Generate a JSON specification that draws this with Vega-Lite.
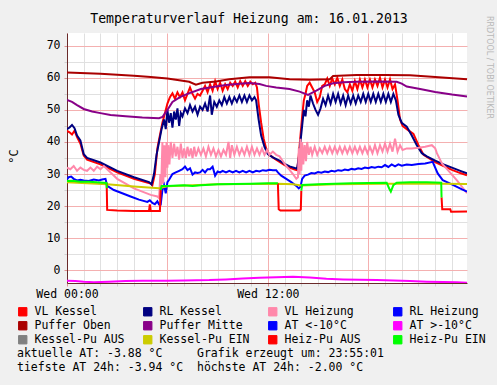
{
"$schema": "https://vega.github.io/schema/vega-lite/v6.json",
"width": 400, "height": 250,
"autosize": "none",
"padding": {"left": 67, "top": 33, "right": 30, "bottom": 102},
"background": "#f0f0f0",
"config": {"view": {"fill": "white", "stroke": null}, "font": "DejaVu Sans Mono"},
"title": {"text": "Temperaturverlauf Heizung am: 16.01.2013", "font": "DejaVu Sans Mono", "fontSize": 13.2, "fontWeight": "normal", "color": "#000", "anchor": "middle", "frame": "group", "dx": -18, "dy": 20, "offset": 9},
"datasets": {
"d": [
{"s":"VL Kessel","h":0,"v":43.5},{"s":"VL Kessel","h":0.15,"v":43},{"s":"VL Kessel","h":0.3,"v":42.3},{"s":"VL Kessel","h":0.45,"v":43.5},{"s":"VL Kessel","h":0.6,"v":41.5},{"s":"VL Kessel","h":0.8,"v":39.5},{"s":"VL Kessel","h":1.0,"v":35.8},{"s":"VL Kessel","h":1.2,"v":34.5},{"s":"VL Kessel","h":2,"v":33},{"s":"VL Kessel","h":3,"v":30.5},{"s":"VL Kessel","h":4,"v":28.5},{"s":"VL Kessel","h":5,"v":27},{"s":"VL Kessel","h":5.1,"v":26.5},{"s":"VL Kessel","h":5.25,"v":30},{"s":"VL Kessel","h":5.4,"v":38},{"s":"VL Kessel","h":5.55,"v":42},{"s":"VL Kessel","h":5.7,"v":46},{"s":"VL Kessel","h":5.85,"v":49},{"s":"VL Kessel","h":6.0,"v":52},{"s":"VL Kessel","h":6.15,"v":54},{"s":"VL Kessel","h":6.3,"v":55.2},{"s":"VL Kessel","h":6.45,"v":53.5},{"s":"VL Kessel","h":6.6,"v":55.5},{"s":"VL Kessel","h":6.75,"v":54},{"s":"VL Kessel","h":6.9,"v":55.5},{"s":"VL Kessel","h":7.05,"v":53},{"s":"VL Kessel","h":7.2,"v":55},{"s":"VL Kessel","h":7.35,"v":57},{"s":"VL Kessel","h":7.5,"v":55},{"s":"VL Kessel","h":7.65,"v":53.5},{"s":"VL Kessel","h":7.8,"v":55},{"s":"VL Kessel","h":7.95,"v":54.5},{"s":"VL Kessel","h":8.1,"v":56},{"s":"VL Kessel","h":8.25,"v":57.5},{"s":"VL Kessel","h":8.4,"v":55.5},{"s":"VL Kessel","h":8.55,"v":58},{"s":"VL Kessel","h":8.7,"v":56},{"s":"VL Kessel","h":8.85,"v":59},{"s":"VL Kessel","h":9.0,"v":56.5},{"s":"VL Kessel","h":9.15,"v":58.5},{"s":"VL Kessel","h":9.3,"v":56},{"s":"VL Kessel","h":9.45,"v":58},{"s":"VL Kessel","h":9.6,"v":56.5},{"s":"VL Kessel","h":9.75,"v":58.5},{"s":"VL Kessel","h":9.9,"v":57.5},{"s":"VL Kessel","h":10.05,"v":58.8},{"s":"VL Kessel","h":10.2,"v":57},{"s":"VL Kessel","h":10.35,"v":59},{"s":"VL Kessel","h":10.5,"v":57.5},{"s":"VL Kessel","h":10.65,"v":59},{"s":"VL Kessel","h":10.8,"v":57.5},{"s":"VL Kessel","h":10.95,"v":58.8},{"s":"VL Kessel","h":11.1,"v":58},{"s":"VL Kessel","h":11.25,"v":58.5},{"s":"VL Kessel","h":11.35,"v":57},{"s":"VL Kessel","h":11.45,"v":52},{"s":"VL Kessel","h":11.6,"v":46},{"s":"VL Kessel","h":11.75,"v":41},{"s":"VL Kessel","h":11.9,"v":38},{"s":"VL Kessel","h":12.1,"v":36},{"s":"VL Kessel","h":12.4,"v":34.8},{"s":"VL Kessel","h":12.7,"v":33.8},{"s":"VL Kessel","h":13.0,"v":32.8},{"s":"VL Kessel","h":13.3,"v":32},{"s":"VL Kessel","h":13.6,"v":31.4},{"s":"VL Kessel","h":13.75,"v":31.2},{"s":"VL Kessel","h":13.85,"v":36},{"s":"VL Kessel","h":13.95,"v":42},{"s":"VL Kessel","h":14.05,"v":48},{"s":"VL Kessel","h":14.15,"v":53},{"s":"VL Kessel","h":14.25,"v":55},{"s":"VL Kessel","h":14.35,"v":57.5},{"s":"VL Kessel","h":14.5,"v":58.5},{"s":"VL Kessel","h":14.65,"v":57},{"s":"VL Kessel","h":14.8,"v":55.5},{"s":"VL Kessel","h":14.95,"v":52.5},{"s":"VL Kessel","h":15.1,"v":54},{"s":"VL Kessel","h":15.25,"v":57.5},{"s":"VL Kessel","h":15.4,"v":58},{"s":"VL Kessel","h":15.55,"v":59.8},{"s":"VL Kessel","h":15.7,"v":57.5},{"s":"VL Kessel","h":15.85,"v":59.8},{"s":"VL Kessel","h":16.0,"v":58},{"s":"VL Kessel","h":16.15,"v":60},{"s":"VL Kessel","h":16.3,"v":57.5},{"s":"VL Kessel","h":16.45,"v":59.5},{"s":"VL Kessel","h":16.6,"v":56.5},{"s":"VL Kessel","h":16.75,"v":55.5},{"s":"VL Kessel","h":16.9,"v":58},{"s":"VL Kessel","h":17.05,"v":56},{"s":"VL Kessel","h":17.2,"v":59},{"s":"VL Kessel","h":17.35,"v":56.5},{"s":"VL Kessel","h":17.5,"v":59.5},{"s":"VL Kessel","h":17.65,"v":57},{"s":"VL Kessel","h":17.8,"v":59.5},{"s":"VL Kessel","h":17.95,"v":57},{"s":"VL Kessel","h":18.1,"v":59.5},{"s":"VL Kessel","h":18.25,"v":57},{"s":"VL Kessel","h":18.4,"v":59.5},{"s":"VL Kessel","h":18.55,"v":57.5},{"s":"VL Kessel","h":18.7,"v":60},{"s":"VL Kessel","h":18.85,"v":57},{"s":"VL Kessel","h":19.0,"v":59.5},{"s":"VL Kessel","h":19.15,"v":57},{"s":"VL Kessel","h":19.3,"v":59.5},{"s":"VL Kessel","h":19.45,"v":56.5},{"s":"VL Kessel","h":19.6,"v":58},{"s":"VL Kessel","h":19.75,"v":53},{"s":"VL Kessel","h":19.9,"v":47},{"s":"VL Kessel","h":20.05,"v":45},{"s":"VL Kessel","h":20.3,"v":44},{"s":"VL Kessel","h":20.7,"v":42.5},{"s":"VL Kessel","h":21.0,"v":39},{"s":"VL Kessel","h":21.3,"v":36},{"s":"VL Kessel","h":21.6,"v":35},{"s":"VL Kessel","h":22,"v":33.7},{"s":"VL Kessel","h":22.5,"v":32.5},{"s":"VL Kessel","h":23,"v":31.3},{"s":"VL Kessel","h":23.5,"v":30.3},{"s":"VL Kessel","h":23.9,"v":29.6},
{"s":"RL Kessel","h":0,"v":44},{"s":"RL Kessel","h":0.15,"v":44.5},{"s":"RL Kessel","h":0.3,"v":45.3},{"s":"RL Kessel","h":0.45,"v":44.3},{"s":"RL Kessel","h":0.6,"v":42},{"s":"RL Kessel","h":0.8,"v":40.5},{"s":"RL Kessel","h":1.0,"v":36.2},{"s":"RL Kessel","h":1.2,"v":35},{"s":"RL Kessel","h":2,"v":33.6},{"s":"RL Kessel","h":3,"v":31},{"s":"RL Kessel","h":4,"v":29},{"s":"RL Kessel","h":4.9,"v":27.5},{"s":"RL Kessel","h":5.05,"v":26.8},{"s":"RL Kessel","h":5.2,"v":30},{"s":"RL Kessel","h":5.35,"v":36},{"s":"RL Kessel","h":5.5,"v":40},{"s":"RL Kessel","h":5.65,"v":44},{"s":"RL Kessel","h":5.8,"v":47},{"s":"RL Kessel","h":5.9,"v":44},{"s":"RL Kessel","h":6.0,"v":50},{"s":"RL Kessel","h":6.1,"v":46},{"s":"RL Kessel","h":6.2,"v":49},{"s":"RL Kessel","h":6.3,"v":44.5},{"s":"RL Kessel","h":6.4,"v":49.5},{"s":"RL Kessel","h":6.5,"v":47},{"s":"RL Kessel","h":6.6,"v":50.5},{"s":"RL Kessel","h":6.7,"v":45},{"s":"RL Kessel","h":6.8,"v":49},{"s":"RL Kessel","h":6.9,"v":48},{"s":"RL Kessel","h":7.05,"v":50.5},{"s":"RL Kessel","h":7.2,"v":49},{"s":"RL Kessel","h":7.35,"v":51.5},{"s":"RL Kessel","h":7.5,"v":49.5},{"s":"RL Kessel","h":7.65,"v":51},{"s":"RL Kessel","h":7.8,"v":48.5},{"s":"RL Kessel","h":7.95,"v":51},{"s":"RL Kessel","h":8.1,"v":50},{"s":"RL Kessel","h":8.25,"v":52},{"s":"RL Kessel","h":8.4,"v":49.5},{"s":"RL Kessel","h":8.55,"v":54.5},{"s":"RL Kessel","h":8.65,"v":48.5},{"s":"RL Kessel","h":8.8,"v":52.5},{"s":"RL Kessel","h":8.95,"v":51},{"s":"RL Kessel","h":9.1,"v":53},{"s":"RL Kessel","h":9.25,"v":51.5},{"s":"RL Kessel","h":9.4,"v":54},{"s":"RL Kessel","h":9.55,"v":52},{"s":"RL Kessel","h":9.7,"v":54},{"s":"RL Kessel","h":9.85,"v":52},{"s":"RL Kessel","h":10.0,"v":54},{"s":"RL Kessel","h":10.15,"v":52.5},{"s":"RL Kessel","h":10.3,"v":54.5},{"s":"RL Kessel","h":10.45,"v":52.5},{"s":"RL Kessel","h":10.6,"v":54.5},{"s":"RL Kessel","h":10.75,"v":52.5},{"s":"RL Kessel","h":10.9,"v":54.5},{"s":"RL Kessel","h":11.05,"v":53},{"s":"RL Kessel","h":11.2,"v":54},{"s":"RL Kessel","h":11.3,"v":53},{"s":"RL Kessel","h":11.45,"v":47},{"s":"RL Kessel","h":11.6,"v":42},{"s":"RL Kessel","h":11.8,"v":38.5},{"s":"RL Kessel","h":12.0,"v":36.2},{"s":"RL Kessel","h":12.3,"v":35.2},{"s":"RL Kessel","h":12.7,"v":34.2},{"s":"RL Kessel","h":13.0,"v":33.2},{"s":"RL Kessel","h":13.3,"v":32.4},{"s":"RL Kessel","h":13.6,"v":31.9},{"s":"RL Kessel","h":13.75,"v":31.6},{"s":"RL Kessel","h":13.85,"v":35},{"s":"RL Kessel","h":13.95,"v":40},{"s":"RL Kessel","h":14.05,"v":45},{"s":"RL Kessel","h":14.15,"v":50},{"s":"RL Kessel","h":14.25,"v":48},{"s":"RL Kessel","h":14.35,"v":53},{"s":"RL Kessel","h":14.45,"v":51},{"s":"RL Kessel","h":14.55,"v":54.5},{"s":"RL Kessel","h":14.7,"v":52},{"s":"RL Kessel","h":14.85,"v":50},{"s":"RL Kessel","h":15.0,"v":48.5},{"s":"RL Kessel","h":15.15,"v":50.5},{"s":"RL Kessel","h":15.3,"v":53.5},{"s":"RL Kessel","h":15.45,"v":51.5},{"s":"RL Kessel","h":15.6,"v":54.5},{"s":"RL Kessel","h":15.75,"v":52},{"s":"RL Kessel","h":15.9,"v":55},{"s":"RL Kessel","h":16.05,"v":52.5},{"s":"RL Kessel","h":16.2,"v":55},{"s":"RL Kessel","h":16.35,"v":52},{"s":"RL Kessel","h":16.5,"v":54.5},{"s":"RL Kessel","h":16.65,"v":51.5},{"s":"RL Kessel","h":16.8,"v":54.5},{"s":"RL Kessel","h":16.95,"v":52},{"s":"RL Kessel","h":17.1,"v":54.5},{"s":"RL Kessel","h":17.25,"v":52},{"s":"RL Kessel","h":17.4,"v":54.5},{"s":"RL Kessel","h":17.55,"v":52.5},{"s":"RL Kessel","h":17.7,"v":55},{"s":"RL Kessel","h":17.85,"v":52.5},{"s":"RL Kessel","h":18.0,"v":55},{"s":"RL Kessel","h":18.15,"v":52.5},{"s":"RL Kessel","h":18.3,"v":55},{"s":"RL Kessel","h":18.45,"v":52.5},{"s":"RL Kessel","h":18.6,"v":55},{"s":"RL Kessel","h":18.75,"v":52.5},{"s":"RL Kessel","h":18.9,"v":55},{"s":"RL Kessel","h":19.05,"v":52.5},{"s":"RL Kessel","h":19.2,"v":55},{"s":"RL Kessel","h":19.35,"v":52.5},{"s":"RL Kessel","h":19.5,"v":55},{"s":"RL Kessel","h":19.65,"v":53},{"s":"RL Kessel","h":19.8,"v":48.5},{"s":"RL Kessel","h":20.0,"v":46},{"s":"RL Kessel","h":20.3,"v":44.8},{"s":"RL Kessel","h":20.6,"v":42},{"s":"RL Kessel","h":20.9,"v":39},{"s":"RL Kessel","h":21.2,"v":36.5},{"s":"RL Kessel","h":21.5,"v":35.5},{"s":"RL Kessel","h":22,"v":34.2},{"s":"RL Kessel","h":22.5,"v":33},{"s":"RL Kessel","h":23,"v":32},{"s":"RL Kessel","h":23.5,"v":31},{"s":"RL Kessel","h":23.9,"v":30.2},
{"s":"VL Heizung","h":0,"v":32},{"s":"VL Heizung","h":0.2,"v":31.5},{"s":"VL Heizung","h":0.4,"v":32.5},{"s":"VL Heizung","h":0.6,"v":31},{"s":"VL Heizung","h":0.8,"v":32},{"s":"VL Heizung","h":1.0,"v":31.3},{"s":"VL Heizung","h":1.2,"v":31},{"s":"VL Heizung","h":1.4,"v":32},{"s":"VL Heizung","h":1.6,"v":31},{"s":"VL Heizung","h":1.8,"v":32.3},{"s":"VL Heizung","h":2.0,"v":31.5},{"s":"VL Heizung","h":2.2,"v":32.5},{"s":"VL Heizung","h":2.4,"v":31.5},{"s":"VL Heizung","h":2.7,"v":30},{"s":"VL Heizung","h":3.0,"v":28.5},{"s":"VL Heizung","h":3.5,"v":27},{"s":"VL Heizung","h":4.0,"v":25.5},{"s":"VL Heizung","h":4.5,"v":24.5},{"s":"VL Heizung","h":5.0,"v":23.5},{"s":"VL Heizung","h":5.4,"v":23},{"s":"VL Heizung","h":5.5,"v":22.5},{"s":"VL Heizung","h":5.58,"v":30},{"s":"VL Heizung","h":5.62,"v":24},{"s":"VL Heizung","h":5.7,"v":40},{"s":"VL Heizung","h":5.75,"v":27},{"s":"VL Heizung","h":5.82,"v":39},{"s":"VL Heizung","h":5.88,"v":29},{"s":"VL Heizung","h":5.95,"v":40},{"s":"VL Heizung","h":6.0,"v":32},{"s":"VL Heizung","h":6.05,"v":39},{"s":"VL Heizung","h":6.12,"v":33},{"s":"VL Heizung","h":6.2,"v":40},{"s":"VL Heizung","h":6.3,"v":35},{"s":"VL Heizung","h":6.4,"v":39.5},{"s":"VL Heizung","h":6.5,"v":35.5},{"s":"VL Heizung","h":6.6,"v":38.5},{"s":"VL Heizung","h":6.7,"v":34.5},{"s":"VL Heizung","h":6.8,"v":39.5},{"s":"VL Heizung","h":6.9,"v":35},{"s":"VL Heizung","h":7.0,"v":38},{"s":"VL Heizung","h":7.1,"v":35},{"s":"VL Heizung","h":7.2,"v":38.5},{"s":"VL Heizung","h":7.3,"v":35.5},{"s":"VL Heizung","h":7.4,"v":38},{"s":"VL Heizung","h":7.5,"v":35},{"s":"VL Heizung","h":7.6,"v":38.5},{"s":"VL Heizung","h":7.7,"v":35.5},{"s":"VL Heizung","h":7.85,"v":38},{"s":"VL Heizung","h":8.0,"v":36},{"s":"VL Heizung","h":8.15,"v":38},{"s":"VL Heizung","h":8.3,"v":35.5},{"s":"VL Heizung","h":8.45,"v":38.5},{"s":"VL Heizung","h":8.6,"v":36},{"s":"VL Heizung","h":8.75,"v":38},{"s":"VL Heizung","h":8.9,"v":35.5},{"s":"VL Heizung","h":9.05,"v":37.5},{"s":"VL Heizung","h":9.2,"v":35.5},{"s":"VL Heizung","h":9.35,"v":37.5},{"s":"VL Heizung","h":9.5,"v":36},{"s":"VL Heizung","h":9.65,"v":40},{"s":"VL Heizung","h":9.75,"v":35},{"s":"VL Heizung","h":9.85,"v":39},{"s":"VL Heizung","h":10.0,"v":36},{"s":"VL Heizung","h":10.15,"v":38.5},{"s":"VL Heizung","h":10.3,"v":36},{"s":"VL Heizung","h":10.45,"v":38},{"s":"VL Heizung","h":10.6,"v":36},{"s":"VL Heizung","h":10.75,"v":38.5},{"s":"VL Heizung","h":10.9,"v":36},{"s":"VL Heizung","h":11.05,"v":38.5},{"s":"VL Heizung","h":11.2,"v":36},{"s":"VL Heizung","h":11.35,"v":38},{"s":"VL Heizung","h":11.5,"v":36},{"s":"VL Heizung","h":11.65,"v":38},{"s":"VL Heizung","h":11.8,"v":36},{"s":"VL Heizung","h":11.95,"v":37.5},{"s":"VL Heizung","h":12.1,"v":36},{"s":"VL Heizung","h":12.3,"v":37},{"s":"VL Heizung","h":12.5,"v":36},{"s":"VL Heizung","h":12.7,"v":35.5},{"s":"VL Heizung","h":12.9,"v":34},{"s":"VL Heizung","h":13.1,"v":32.5},{"s":"VL Heizung","h":13.3,"v":31.3},{"s":"VL Heizung","h":13.5,"v":30},{"s":"VL Heizung","h":13.7,"v":28.5},{"s":"VL Heizung","h":13.8,"v":29},{"s":"VL Heizung","h":13.85,"v":38},{"s":"VL Heizung","h":13.9,"v":30},{"s":"VL Heizung","h":13.95,"v":41},{"s":"VL Heizung","h":14.0,"v":31},{"s":"VL Heizung","h":14.05,"v":40},{"s":"VL Heizung","h":14.12,"v":33},{"s":"VL Heizung","h":14.2,"v":39},{"s":"VL Heizung","h":14.28,"v":34},{"s":"VL Heizung","h":14.35,"v":40},{"s":"VL Heizung","h":14.45,"v":36},{"s":"VL Heizung","h":14.55,"v":38.5},{"s":"VL Heizung","h":14.65,"v":36},{"s":"VL Heizung","h":14.8,"v":38.5},{"s":"VL Heizung","h":14.95,"v":36},{"s":"VL Heizung","h":15.1,"v":38},{"s":"VL Heizung","h":15.25,"v":36.5},{"s":"VL Heizung","h":15.4,"v":38.5},{"s":"VL Heizung","h":15.55,"v":36.5},{"s":"VL Heizung","h":15.7,"v":38.5},{"s":"VL Heizung","h":15.85,"v":36.5},{"s":"VL Heizung","h":16.0,"v":38.5},{"s":"VL Heizung","h":16.15,"v":36.5},{"s":"VL Heizung","h":16.3,"v":38.5},{"s":"VL Heizung","h":16.45,"v":36.5},{"s":"VL Heizung","h":16.6,"v":38.5},{"s":"VL Heizung","h":16.75,"v":36.5},{"s":"VL Heizung","h":16.9,"v":38.5},{"s":"VL Heizung","h":17.05,"v":36.5},{"s":"VL Heizung","h":17.2,"v":38.5},{"s":"VL Heizung","h":17.35,"v":36.5},{"s":"VL Heizung","h":17.5,"v":38.5},{"s":"VL Heizung","h":17.65,"v":36.5},{"s":"VL Heizung","h":17.8,"v":38.5},{"s":"VL Heizung","h":17.95,"v":36.5},{"s":"VL Heizung","h":18.1,"v":38.5},{"s":"VL Heizung","h":18.25,"v":36.5},{"s":"VL Heizung","h":18.4,"v":39},{"s":"VL Heizung","h":18.55,"v":36.5},{"s":"VL Heizung","h":18.7,"v":39},{"s":"VL Heizung","h":18.85,"v":37},{"s":"VL Heizung","h":19.0,"v":39.5},{"s":"VL Heizung","h":19.15,"v":37},{"s":"VL Heizung","h":19.3,"v":39.5},{"s":"VL Heizung","h":19.45,"v":37},{"s":"VL Heizung","h":19.6,"v":41},{"s":"VL Heizung","h":19.75,"v":37},{"s":"VL Heizung","h":19.9,"v":39},{"s":"VL Heizung","h":20.05,"v":37.5},{"s":"VL Heizung","h":20.3,"v":38},{"s":"VL Heizung","h":20.6,"v":38},{"s":"VL Heizung","h":21.0,"v":38.2},{"s":"VL Heizung","h":21.4,"v":38.5},{"s":"VL Heizung","h":21.8,"v":39},{"s":"VL Heizung","h":22.0,"v":38},{"s":"VL Heizung","h":22.1,"v":36.5},{"s":"VL Heizung","h":22.4,"v":33.3},{"s":"VL Heizung","h":22.8,"v":31},{"s":"VL Heizung","h":23.3,"v":28},{"s":"VL Heizung","h":23.6,"v":26},{"s":"VL Heizung","h":23.9,"v":24},
{"s":"RL Heizung","h":0,"v":28.3},{"s":"RL Heizung","h":0.1,"v":29},{"s":"RL Heizung","h":0.25,"v":29.2},{"s":"RL Heizung","h":0.4,"v":28.5},{"s":"RL Heizung","h":0.6,"v":28},{"s":"RL Heizung","h":0.8,"v":28.2},{"s":"RL Heizung","h":1.0,"v":28},{"s":"RL Heizung","h":1.3,"v":27.8},{"s":"RL Heizung","h":1.6,"v":28.3},{"s":"RL Heizung","h":1.9,"v":28},{"s":"RL Heizung","h":2.1,"v":28.3},{"s":"RL Heizung","h":2.3,"v":28.5},{"s":"RL Heizung","h":2.4,"v":26.3},{"s":"RL Heizung","h":2.8,"v":25},{"s":"RL Heizung","h":3.3,"v":24},{"s":"RL Heizung","h":3.8,"v":23},{"s":"RL Heizung","h":4.3,"v":22},{"s":"RL Heizung","h":4.8,"v":21.3},{"s":"RL Heizung","h":4.95,"v":21.8},{"s":"RL Heizung","h":5.1,"v":21},{"s":"RL Heizung","h":5.25,"v":20.6},{"s":"RL Heizung","h":5.4,"v":21.5},{"s":"RL Heizung","h":5.5,"v":20.5},{"s":"RL Heizung","h":5.6,"v":20.5},{"s":"RL Heizung","h":5.7,"v":25},{"s":"RL Heizung","h":5.8,"v":26.5},{"s":"RL Heizung","h":5.9,"v":24},{"s":"RL Heizung","h":6.0,"v":27.5},{"s":"RL Heizung","h":6.1,"v":28.2},{"s":"RL Heizung","h":6.3,"v":30},{"s":"RL Heizung","h":6.5,"v":30.5},{"s":"RL Heizung","h":6.7,"v":31},{"s":"RL Heizung","h":6.9,"v":31.5},{"s":"RL Heizung","h":7.05,"v":32.3},{"s":"RL Heizung","h":7.2,"v":31.2},{"s":"RL Heizung","h":7.35,"v":31.8},{"s":"RL Heizung","h":7.5,"v":29.8},{"s":"RL Heizung","h":7.65,"v":30.5},{"s":"RL Heizung","h":7.8,"v":30.3},{"s":"RL Heizung","h":7.95,"v":30.5},{"s":"RL Heizung","h":8.1,"v":31.3},{"s":"RL Heizung","h":8.25,"v":30.5},{"s":"RL Heizung","h":8.4,"v":31.5},{"s":"RL Heizung","h":8.55,"v":31.5},{"s":"RL Heizung","h":8.7,"v":32.3},{"s":"RL Heizung","h":8.85,"v":29.5},{"s":"RL Heizung","h":9.0,"v":30.8},{"s":"RL Heizung","h":9.15,"v":30.5},{"s":"RL Heizung","h":9.3,"v":31},{"s":"RL Heizung","h":9.5,"v":30.5},{"s":"RL Heizung","h":9.7,"v":31},{"s":"RL Heizung","h":9.9,"v":30.5},{"s":"RL Heizung","h":10.1,"v":31},{"s":"RL Heizung","h":10.3,"v":30.5},{"s":"RL Heizung","h":10.5,"v":31},{"s":"RL Heizung","h":10.7,"v":30.5},{"s":"RL Heizung","h":10.9,"v":31},{"s":"RL Heizung","h":11.1,"v":30.5},{"s":"RL Heizung","h":11.3,"v":31},{"s":"RL Heizung","h":11.5,"v":30.8},{"s":"RL Heizung","h":11.7,"v":31.2},{"s":"RL Heizung","h":11.9,"v":31},{"s":"RL Heizung","h":12.1,"v":31.3},{"s":"RL Heizung","h":12.3,"v":31.2},{"s":"RL Heizung","h":12.5,"v":31.2},{"s":"RL Heizung","h":12.6,"v":30.5},{"s":"RL Heizung","h":12.8,"v":29.5},{"s":"RL Heizung","h":13.1,"v":28.5},{"s":"RL Heizung","h":13.4,"v":27.5},{"s":"RL Heizung","h":13.7,"v":26.3},{"s":"RL Heizung","h":13.85,"v":25.5},{"s":"RL Heizung","h":13.95,"v":26},{"s":"RL Heizung","h":14.05,"v":28.5},{"s":"RL Heizung","h":14.2,"v":29.5},{"s":"RL Heizung","h":14.4,"v":29.8},{"s":"RL Heizung","h":14.6,"v":30.3},{"s":"RL Heizung","h":14.8,"v":30.2},{"s":"RL Heizung","h":15.0,"v":30.6},{"s":"RL Heizung","h":15.2,"v":30.4},{"s":"RL Heizung","h":15.4,"v":30.8},{"s":"RL Heizung","h":15.6,"v":30.6},{"s":"RL Heizung","h":15.8,"v":31},{"s":"RL Heizung","h":16.0,"v":30.8},{"s":"RL Heizung","h":16.2,"v":31.2},{"s":"RL Heizung","h":16.4,"v":31},{"s":"RL Heizung","h":16.6,"v":31.4},{"s":"RL Heizung","h":16.8,"v":31.2},{"s":"RL Heizung","h":17.0,"v":31.6},{"s":"RL Heizung","h":17.2,"v":31.4},{"s":"RL Heizung","h":17.4,"v":31.8},{"s":"RL Heizung","h":17.6,"v":31.6},{"s":"RL Heizung","h":17.8,"v":32},{"s":"RL Heizung","h":18.0,"v":31.8},{"s":"RL Heizung","h":18.2,"v":32.2},{"s":"RL Heizung","h":18.4,"v":32},{"s":"RL Heizung","h":18.6,"v":32.3},{"s":"RL Heizung","h":18.8,"v":32.1},{"s":"RL Heizung","h":19.0,"v":32.8},{"s":"RL Heizung","h":19.2,"v":32.2},{"s":"RL Heizung","h":19.4,"v":33},{"s":"RL Heizung","h":19.6,"v":32.4},{"s":"RL Heizung","h":19.8,"v":33},{"s":"RL Heizung","h":20.0,"v":32.6},{"s":"RL Heizung","h":20.3,"v":33},{"s":"RL Heizung","h":20.6,"v":32.8},{"s":"RL Heizung","h":21.0,"v":33.1},{"s":"RL Heizung","h":21.4,"v":33.3},{"s":"RL Heizung","h":21.85,"v":33.8},{"s":"RL Heizung","h":22.15,"v":30.2},{"s":"RL Heizung","h":22.45,"v":28.1},{"s":"RL Heizung","h":22.9,"v":27},{"s":"RL Heizung","h":23.3,"v":26},{"s":"RL Heizung","h":23.6,"v":25.2},{"s":"RL Heizung","h":23.9,"v":24.5},
{"s":"Puffer Oben","h":0,"v":61.7},{"s":"Puffer Oben","h":2,"v":61.3},{"s":"Puffer Oben","h":4,"v":60.7},{"s":"Puffer Oben","h":5,"v":60.3},{"s":"Puffer Oben","h":6,"v":59.8},{"s":"Puffer Oben","h":7.3,"v":58.8},{"s":"Puffer Oben","h":7.7,"v":57.9},{"s":"Puffer Oben","h":8.1,"v":58.5},{"s":"Puffer Oben","h":8.9,"v":58.9},{"s":"Puffer Oben","h":9.7,"v":59.6},{"s":"Puffer Oben","h":10.9,"v":60.2},{"s":"Puffer Oben","h":12.1,"v":60.2},{"s":"Puffer Oben","h":13.3,"v":59.6},{"s":"Puffer Oben","h":14.5,"v":59.4},{"s":"Puffer Oben","h":15.7,"v":59.6},{"s":"Puffer Oben","h":15.9,"v":60.6},{"s":"Puffer Oben","h":17.3,"v":60.9},{"s":"Puffer Oben","h":19,"v":60.9},{"s":"Puffer Oben","h":20.5,"v":60.8},{"s":"Puffer Oben","h":22,"v":60.3},{"s":"Puffer Oben","h":23.9,"v":59.6},
{"s":"Puffer Mitte","h":0,"v":53.1},{"s":"Puffer Mitte","h":0.3,"v":52.5},{"s":"Puffer Mitte","h":0.6,"v":51.5},{"s":"Puffer Mitte","h":1.0,"v":50.3},{"s":"Puffer Mitte","h":1.5,"v":49.5},{"s":"Puffer Mitte","h":2.0,"v":49},{"s":"Puffer Mitte","h":2.6,"v":48.4},{"s":"Puffer Mitte","h":3.5,"v":48},{"s":"Puffer Mitte","h":4.5,"v":47.6},{"s":"Puffer Mitte","h":5.5,"v":47.4},{"s":"Puffer Mitte","h":5.7,"v":47.8},{"s":"Puffer Mitte","h":6.0,"v":50},{"s":"Puffer Mitte","h":6.3,"v":52.5},{"s":"Puffer Mitte","h":6.75,"v":54},{"s":"Puffer Mitte","h":7.2,"v":55},{"s":"Puffer Mitte","h":8.0,"v":56.5},{"s":"Puffer Mitte","h":8.9,"v":57.3},{"s":"Puffer Mitte","h":9.5,"v":57.8},{"s":"Puffer Mitte","h":10.3,"v":58.2},{"s":"Puffer Mitte","h":10.9,"v":58.4},{"s":"Puffer Mitte","h":11.5,"v":58.1},{"s":"Puffer Mitte","h":11.9,"v":57.5},{"s":"Puffer Mitte","h":12.5,"v":57},{"s":"Puffer Mitte","h":13.3,"v":56.5},{"s":"Puffer Mitte","h":13.9,"v":55.7},{"s":"Puffer Mitte","h":14.4,"v":54.7},{"s":"Puffer Mitte","h":14.9,"v":56},{"s":"Puffer Mitte","h":15.4,"v":57.5},{"s":"Puffer Mitte","h":15.9,"v":58.3},{"s":"Puffer Mitte","h":16.5,"v":58.6},{"s":"Puffer Mitte","h":17.3,"v":58.8},{"s":"Puffer Mitte","h":18.5,"v":58.9},{"s":"Puffer Mitte","h":19.7,"v":58.8},{"s":"Puffer Mitte","h":20.0,"v":58.2},{"s":"Puffer Mitte","h":20.3,"v":57.3},{"s":"Puffer Mitte","h":20.7,"v":56.9},{"s":"Puffer Mitte","h":21.1,"v":56.5},{"s":"Puffer Mitte","h":22,"v":55.6},{"s":"Puffer Mitte","h":23,"v":54.8},{"s":"Puffer Mitte","h":23.9,"v":54.2},
{"s":"AT >-10°C","h":0,"v":-3.3},{"s":"AT >-10°C","h":0.5,"v":-3.4},{"s":"AT >-10°C","h":1,"v":-3.6},{"s":"AT >-10°C","h":1.6,"v":-3.75},{"s":"AT >-10°C","h":2.5,"v":-3.6},{"s":"AT >-10°C","h":3.5,"v":-3.4},{"s":"AT >-10°C","h":4.5,"v":-3.3},{"s":"AT >-10°C","h":6,"v":-3.3},{"s":"AT >-10°C","h":7,"v":-3.2},{"s":"AT >-10°C","h":8.5,"v":-3.1},{"s":"AT >-10°C","h":9.5,"v":-2.9},{"s":"AT >-10°C","h":10.5,"v":-2.6},{"s":"AT >-10°C","h":11.5,"v":-2.4},{"s":"AT >-10°C","h":12.5,"v":-2.2},{"s":"AT >-10°C","h":13.5,"v":-2.05},{"s":"AT >-10°C","h":14.5,"v":-2.3},{"s":"AT >-10°C","h":15.5,"v":-2.7},{"s":"AT >-10°C","h":16.5,"v":-2.9},{"s":"AT >-10°C","h":17.5,"v":-3.0},{"s":"AT >-10°C","h":18.5,"v":-3.1},{"s":"AT >-10°C","h":19.5,"v":-3.2},{"s":"AT >-10°C","h":20.5,"v":-3.4},{"s":"AT >-10°C","h":21.5,"v":-3.6},{"s":"AT >-10°C","h":22.5,"v":-3.7},{"s":"AT >-10°C","h":23.3,"v":-3.8},{"s":"AT >-10°C","h":23.9,"v":-3.9},
{"s":"Kessel-Pu EIN","h":0,"v":27.4},{"s":"Kessel-Pu EIN","h":2.4,"v":26.8},{"s":"Kessel-Pu EIN","h":4,"v":26.1},{"s":"Kessel-Pu EIN","h":5.5,"v":25.6},{"s":"Kessel-Pu EIN","h":6,"v":26.2},{"s":"Kessel-Pu EIN","h":9,"v":26.8},{"s":"Kessel-Pu EIN","h":12.6,"v":27},{"s":"Kessel-Pu EIN","h":13.5,"v":26.8},{"s":"Kessel-Pu EIN","h":14,"v":26.4},{"s":"Kessel-Pu EIN","h":16,"v":26.8},{"s":"Kessel-Pu EIN","h":19,"v":27},{"s":"Kessel-Pu EIN","h":22.4,"v":27},{"s":"Kessel-Pu EIN","h":23.9,"v":26.9},
{"s":"Heiz-Pu AUS","h":2.37,"v":27.2},{"s":"Heiz-Pu AUS","h":2.4,"v":18.8},{"s":"Heiz-Pu AUS","h":3,"v":18.6},{"s":"Heiz-Pu AUS","h":4,"v":18.5},{"s":"Heiz-Pu AUS","h":4.9,"v":18.5},{"s":"Heiz-Pu AUS","h":4.95,"v":20.5},{"s":"Heiz-Pu AUS","h":5.0,"v":18.5},{"s":"Heiz-Pu AUS","h":5.55,"v":18.5},{"s":"Heiz-Pu AUS","h":5.6,"v":25.5},{"s":"Heiz-Pu AUS","h":5.7,"v":null},{"s":"Heiz-Pu AUS","h":12.6,"v":27.1},{"s":"Heiz-Pu AUS","h":12.65,"v":19},{"s":"Heiz-Pu AUS","h":12.75,"v":18.6},{"s":"Heiz-Pu AUS","h":13.9,"v":18.6},{"s":"Heiz-Pu AUS","h":13.97,"v":19},{"s":"Heiz-Pu AUS","h":14.0,"v":24.8},{"s":"Heiz-Pu AUS","h":14.1,"v":null},{"s":"Heiz-Pu AUS","h":22.38,"v":22.7},{"s":"Heiz-Pu AUS","h":22.42,"v":19},{"s":"Heiz-Pu AUS","h":22.9,"v":19},{"s":"Heiz-Pu AUS","h":22.95,"v":18.2},{"s":"Heiz-Pu AUS","h":23.9,"v":18.3},
{"s":"Heiz-Pu EIN","h":0,"v":27.8},{"s":"Heiz-Pu EIN","h":0.3,"v":27.9},{"s":"Heiz-Pu EIN","h":0.8,"v":27.6},{"s":"Heiz-Pu EIN","h":1.3,"v":27.6},{"s":"Heiz-Pu EIN","h":1.8,"v":27.4},{"s":"Heiz-Pu EIN","h":2.2,"v":27.3},{"s":"Heiz-Pu EIN","h":2.36,"v":27.2},{"s":"Heiz-Pu EIN","h":2.38,"v":25.6},{"s":"Heiz-Pu EIN","h":2.5,"v":null},{"s":"Heiz-Pu EIN","h":5.6,"v":25},{"s":"Heiz-Pu EIN","h":5.65,"v":26.3},{"s":"Heiz-Pu EIN","h":6,"v":26.3},{"s":"Heiz-Pu EIN","h":7,"v":26.5},{"s":"Heiz-Pu EIN","h":7.5,"v":26.3},{"s":"Heiz-Pu EIN","h":8,"v":26.5},{"s":"Heiz-Pu EIN","h":9,"v":26.8},{"s":"Heiz-Pu EIN","h":10,"v":26.9},{"s":"Heiz-Pu EIN","h":11,"v":27},{"s":"Heiz-Pu EIN","h":12,"v":27.1},{"s":"Heiz-Pu EIN","h":12.6,"v":27.1},{"s":"Heiz-Pu EIN","h":12.7,"v":null},{"s":"Heiz-Pu EIN","h":14.0,"v":24.8},{"s":"Heiz-Pu EIN","h":14.05,"v":26.6},{"s":"Heiz-Pu EIN","h":15,"v":26.8},{"s":"Heiz-Pu EIN","h":16,"v":27},{"s":"Heiz-Pu EIN","h":17,"v":27.1},{"s":"Heiz-Pu EIN","h":18,"v":27.2},{"s":"Heiz-Pu EIN","h":19.1,"v":27.3},{"s":"Heiz-Pu EIN","h":19.25,"v":25.5},{"s":"Heiz-Pu EIN","h":19.35,"v":24.5},{"s":"Heiz-Pu EIN","h":19.5,"v":26.5},{"s":"Heiz-Pu EIN","h":19.7,"v":27.3},{"s":"Heiz-Pu EIN","h":20.5,"v":27.4},{"s":"Heiz-Pu EIN","h":21.5,"v":27.4},{"s":"Heiz-Pu EIN","h":22.36,"v":27.3},{"s":"Heiz-Pu EIN","h":22.38,"v":22.7}
]
},
"data": {"name": "d"},
"encoding": {
 "x": {"field": "h", "type": "quantitative",
  "scale": {"domain": [0, 23.9], "nice": false, "zero": false},
  "axis": {"values": [0,1,2,3,4,5,6,7,8,9,10,11,12,13,14,15,16,17,18,19,20,21,22,23],
   "labelExpr": "datum.value === 0 ? 'Wed 00:00' : datum.value === 12 ? 'Wed 12:00' : ''",
   "labelFlush": false, "labelOverlap": false, "grid": true,
   "gridColor": {"condition": {"test": "datum.value % 6 === 0", "value": "#f4b0b0"}, "value": "#e0e0e0"},
   "tickSize": 3, "tickColor": {"condition": {"test": "datum.value % 6 === 0", "value": "#e09090"}, "value": "#d0d0d0"},
   "domainColor": "#6a2a2a", "labelFont": "DejaVu Sans Mono", "labelFontSize": 11.5, "labelColor": "#000", "labelPadding": 2, "title": null}},
 "color": {"field": "s", "type": "nominal",
  "scale": {"domain": ["VL Kessel","RL Kessel","VL Heizung","RL Heizung","Puffer Oben","Puffer Mitte","AT <-10°C","AT >-10°C","Kessel-Pu AUS","Kessel-Pu EIN","Heiz-Pu AUS","Heiz-Pu EIN"],
   "range": ["#ff0000","#000080","#ff88aa","#0000ff","#aa0000","#880088","#0000ff","#ff00ff","#808080","#cccc00","#ff0000","#00ff00"]},
  "legend": {"orient": "none", "legendX": -50, "legendY": 273, "direction": "horizontal", "columns": 4, "gridAlign": "all", "columnPadding": 16, "rowPadding": 1,
   "symbolType": "square", "symbolSize": 70, "symbolStrokeWidth": 1, "symbolStrokeColor": "#000", "labelOffset": 6,
   "labelFont": "DejaVu Sans Mono", "labelFontSize": 11.5, "labelColor": "#000", "labelLimit": 300,
   "title": ["aktuelle AT: -3.88 °C\u00a0\u00a0\u00a0\u00a0\u00a0Grafik erzeugt um: 23:55:01", "tiefste AT 24h: -3.94 °C\u00a0\u00a0höchste AT 24h: -2.00 °C"],
   "titleOrient": "bottom", "titleAnchor": "start", "titleFont": "DejaVu Sans Mono", "titleFontSize": 11.5, "titleFontWeight": "normal", "titleColor": "#000", "titleLimit": 1000, "titlePadding": 2, "titleLineHeight": 14,
   "encode": {"symbols": {"update": {"fill": {"scale": "color", "field": "value"}, "stroke": {"value": "#000"}, "opacity": {"value": 1}, "fillOpacity": {"value": 1}}}}}}
},
"layer": [
 {"transform": [{"filter": "datum.s !== 'Heiz-Pu EIN'"}],
  "mark": {"type": "line", "strokeWidth": 2, "clip": true},
  "encoding": {"y": {"field": "v", "type": "quantitative",
   "scale": {"domain": [-4, 74], "nice": false, "zero": false},
   "axis": {"orient": "left", "values": [0,5,10,15,20,25,30,35,40,45,50,55,60,65,70],
    "labelExpr": "datum.value % 10 === 0 ? datum.label : ''", "labelOverlap": false, "grid": true,
    "gridColor": {"condition": {"test": "datum.value % 10 === 0", "value": "#f4b0b0"}, "value": "#e0e0e0"},
    "tickSize": 3, "tickColor": {"condition": {"test": "datum.value % 10 === 0", "value": "#e09090"}, "value": "#d0d0d0"},
    "domainColor": "#6a2a2a", "labelFont": "DejaVu Sans Mono", "labelFontSize": 11.5, "labelColor": "#000", "labelPadding": 4,
    "title": "°C", "titleFont": "DejaVu Sans Mono", "titleFontSize": 12, "titleFontWeight": "normal", "titleColor": "#000",
    "titleX": -54, "titleY": 123, "titleBaseline": "middle", "titleAlign": "center", "titleAngle": 270}}}},
 {"transform": [{"filter": "datum.s === 'Heiz-Pu EIN'"}],
  "mark": {"type": "line", "strokeWidth": 2, "clip": true},
  "encoding": {"y": {"field": "v", "type": "quantitative",
   "axis": {"orient": "right", "labels": false, "ticks": false, "domain": false, "grid": false,
    "title": "RRDTOOL / TOBI OETIKER", "titleFont": "DejaVu Sans", "titleFontSize": 8, "titleFontWeight": "normal", "titleColor": "#b8b8b8",
    "titleAngle": 90, "titleX": 21, "titleY": 34, "titleBaseline": "middle", "titleAlign": "center"}}}}
]
}
